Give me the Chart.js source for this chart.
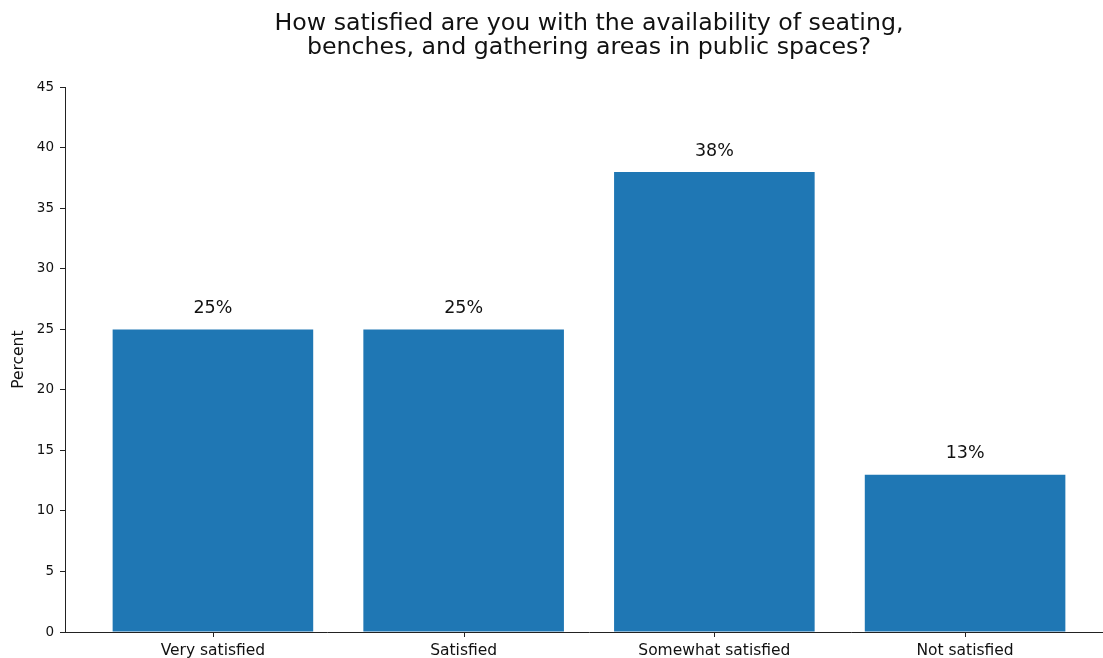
<!DOCTYPE html>
<html>
<head>
<meta charset="utf-8">
<script src="https://cdn.jsdelivr.net/npm/chart.js@4.4.1/dist/chart.umd.min.js"></script>
<style>
    html, body { margin: 0; padding: 0; background: #fff; overflow: hidden; }
    #wrap { width: 1118px; height: 658px; }
</style>
</head>
<body>
<div id="wrap"><canvas id="myChart" width="1118" height="658"></canvas></div>
<script>
// chart data
var categories = ["Very satisfied", "Satisfied", "Somewhat satisfied", "Not satisfied"];
var percents = [25, 25, 38, 13];
var yTicks = [0, 5, 10, 15, 20, 25, 30, 35, 40, 45];
var titleLines = ["How satisfied are you with the availability of seating,", "benches, and gathering areas in public spaces?"];

var fontFamily = "'DejaVu Sans', sans-serif";
var axisColor = "#222222";

// value labels above bars
var barLabels = {
    id: "barLabels",
    afterDatasetsDraw: function (chart) {
        var ctx = chart.ctx;
        var meta = chart.getDatasetMeta(0);
        ctx.save();
        ctx.font = "17.5px " + fontFamily;
        ctx.fillStyle = "#111";
        ctx.textAlign = "center";
        ctx.textBaseline = "bottom";
        meta.data.forEach(function (bar, i) {
            ctx.fillText(percents[i] + "%", bar.x, bar.y - 12);
        });
        ctx.restore();
    }
};

// small tick marks under each category (matplotlib style)
var xTickMarks = {
    id: "xTickMarks",
    afterDraw: function (chart) {
        var ctx = chart.ctx;
        var xs = chart.scales.x;
        var y0 = chart.chartArea.bottom;
        ctx.save();
        ctx.strokeStyle = axisColor;
        ctx.lineWidth = 1;
        categories.forEach(function (c, i) {
            var px = Math.round(xs.getPixelForValue(i)) + 0.5;
            ctx.beginPath();
            ctx.moveTo(px, y0);
            ctx.lineTo(px, y0 + 5);
            ctx.stroke();
        });
        ctx.restore();
    }
};

var ctx = document.getElementById("myChart");
var myChart = new Chart(ctx, {
    type: "bar",
    data: {
        datasets: [
            {
                label: "Percent",
                data: percents.map(function (v, i) { return { x: i, y: v }; }),
                backgroundColor: "#1f77b4",
                borderWidth: 0,
                barPercentage: 0.8,
                categoryPercentage: 1
            }
        ]
    },
    options: {
        responsive: false,
        animation: false,
        layout: { padding: { left: 0, right: 5, top: 0, bottom: 0 } },
        plugins: {
            legend: { display: false },
            tooltip: { enabled: false },
            title: {
                display: true,
                fullSize: false,
                text: titleLines,
                color: "#111",
                font: { family: fontFamily, size: 23.7, weight: "normal", lineHeight: 1.02 },
                padding: { top: 12, bottom: 27 }
            }
        },
        scales: {
            x: {
                type: "linear",
                offset: false,
                min: -0.59,
                max: 3.59,
                afterBuildTicks: function (axis) {
                    axis.ticks = categories.map(function (c, i) { return { value: i }; });
                },
                afterFit: function (axis) { axis.height = 26; },
                ticks: {
                    autoSkip: false,
                    maxRotation: 0,
                    padding: 2,
                    color: "#111",
                    font: { family: fontFamily, size: 15.5 },
                    callback: function (v) { return categories[Math.round(v)]; }
                },
                grid: { display: false },
                border: { display: true, color: axisColor, width: 1 }
            },
            y: {
                min: 0,
                max: 45,
                afterBuildTicks: function (axis) {
                    axis.ticks = yTicks.map(function (v) { return { value: v }; });
                },
                afterFit: function (axis) { axis.width = 65; },
                ticks: {
                    padding: 6,
                    color: "#111",
                    font: { family: fontFamily, size: 13.5 }
                },
                title: {
                    display: true,
                    text: "Percent",
                    color: "#111",
                    font: { family: fontFamily, size: 15.5, lineHeight: 1.2 },
                    padding: { top: 10, bottom: 4 }
                },
                grid: { display: true, offset: false, drawOnChartArea: false, drawTicks: true, tickLength: 5, tickColor: axisColor, color: axisColor },
                border: { display: true, color: axisColor, width: 1 }
            }
        }
    },
    plugins: [barLabels, xTickMarks]
});
</script>
</body>
</html>
